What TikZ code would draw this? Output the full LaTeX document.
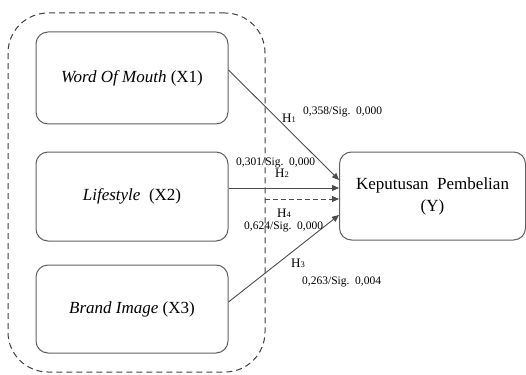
\documentclass[tikz,border=0pt]{standalone}
\usepackage{fontspec}
\setmainfont{Liberation Serif}
\usetikzlibrary{arrows.meta}
\begin{document}
\begin{tikzpicture}[x=1pt,y=-1pt,
  varbox/.style={draw=black!62,line width=1pt,rounded corners=12pt,
    minimum width=192pt,inner sep=0pt,font=\fontsize{17}{21}\selectfont,align=center},
  group/.style={draw=black!75,line width=1pt,dash pattern=on 6pt off 4pt,
    rounded corners=40pt,minimum width=257pt,minimum height=359pt,inner sep=0pt},
  link/.style={draw=black!70,line width=0.9pt,-{Triangle[length=7pt,width=6pt]}},
  dlink/.style={link,dash pattern=on 5pt off 3pt},
  coef/.style={font=\fontsize{11.5}{12}\selectfont,inner sep=0pt,anchor=west},
  hyp/.style={font=\fontsize{13}{13}\selectfont,inner sep=0pt}]
\useasboundingbox (0,0) rectangle (526,374);
\fill[white] (0,0) rectangle (526,374);

% dashed group around the independent variables
\node[group] (grp) at (136.5,192.5) {};

% variable boxes
\node[varbox,minimum height=92pt] (x1) at (132,78) {\raisebox{2pt}{\textit{Word Of Mouth} (X1)}};
\node[varbox,minimum height=89pt] (x2) at (132,196.5) {\textit{Lifestyle}\ \ (X2)};
\node[varbox,minimum height=88pt] (x3) at (132,309) {\textit{Brand Image} (X3)};
\node[varbox,minimum width=186pt,minimum height=88pt] (y) at (432.5,196)
  {Keputusan\ \ Pembelian\\[1pt](Y)};

% paths
\coordinate (h4s) at (265,199);
\draw[link] ([yshift=8pt]x1.east) -- ([yshift=16pt]y.west);
\draw[link] ([yshift=8.5pt]x2.east) -- ([yshift=8pt]y.west);
\draw[dlink] (h4s) -- ([yshift=-3pt]y.west);
\draw[link] ([yshift=7pt]x3.east) -- ([yshift=-19pt]y.west);

% hypothesis labels
\node[hyp] (h1) at (289,118) {H{\fontsize{8.5}{8.5}\selectfont 1}};
\node[hyp] (h2) at (282,173) {H{\fontsize{8.5}{8.5}\selectfont 2}};
\node[hyp] (h4) at (284,213) {H{\fontsize{8.5}{8.5}\selectfont 4}};
\node[hyp] (h3) at (298,263) {H{\fontsize{8.5}{8.5}\selectfont 3}};

% coefficients
\node[coef] (c1) at (303,112) {0,358/Sig.\ \ 0,000};
\node[coef] (c2) at (236,163) {0,301/Sig.\ \ 0,000};
\node[coef] (c4) at (244,227) {0,624/Sig.\ \ 0,000};
\node[coef] (c3) at (302,282) {0,263/Sig.\ \ 0,004};
\end{tikzpicture}
\end{document}
